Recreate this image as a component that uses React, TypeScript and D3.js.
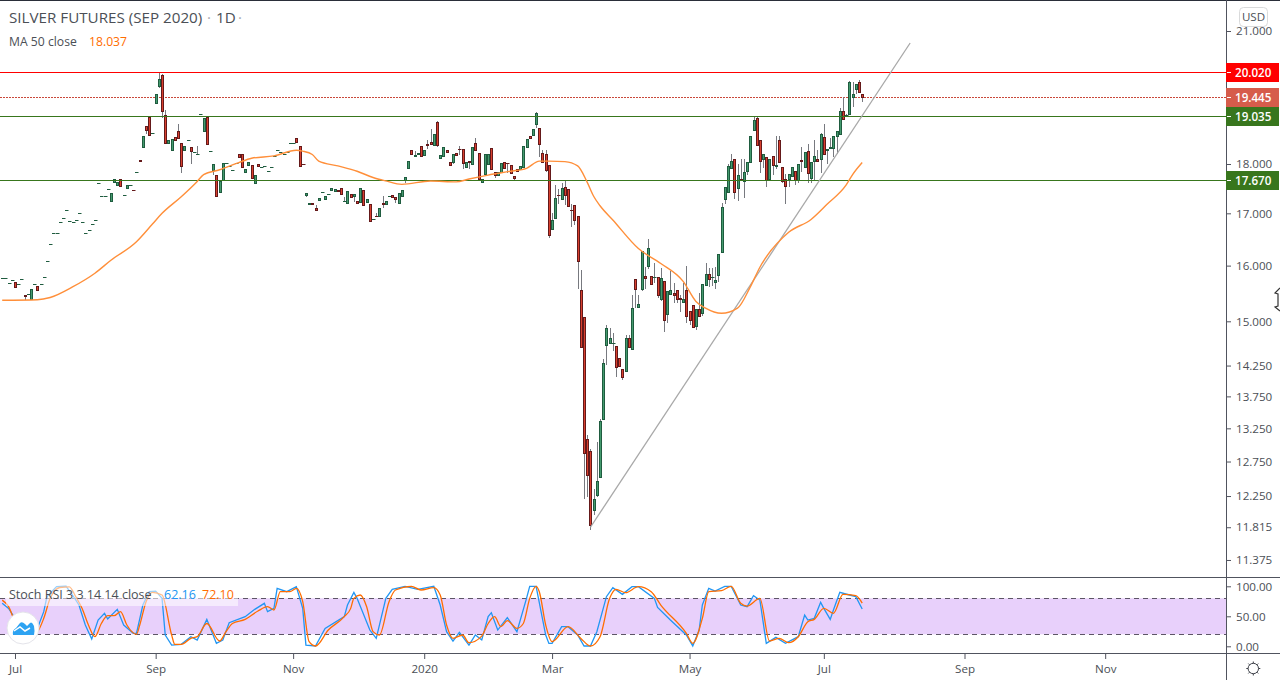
import React, { useEffect, useRef } from 'react';
import * as d3 from 'd3';

// daily candles, values
const opens = [
  15.77,15.77,15.68,15.73,15.70,15.66,15.75,15.47,15.48,15.40,
  15.66,15.62,15.66,15.79,16.09,16.40,16.61,16.61,16.82,16.90,
  17.06,16.84,16.82,16.86,17.00,16.82,16.61,16.68,16.80,16.86,
  17.60,17.34,17.34,17.48,17.24,17.62,17.56,17.70,17.36,17.50,
  17.57,17.47,17.83,18.08,18.36,18.80,19.00,18.65,19.31,19.70,
  19.95,19.05,18.44,18.29,18.57,18.70,18.44,18.29,18.50,18.35,
  18.25,18.21,19.07,18.70,19.00,18.27,17.88,17.77,17.42,17.66,
  18.02,17.95,17.87,18.03,18.21,18.21,17.84,17.97,17.97,17.60,
  17.99,17.93,17.95,17.85,17.93,18.16,18.29,18.25,18.20,18.25,
  18.44,18.44,18.55,18.38,18.01,17.36,17.18,17.20,17.11,17.27,
  17.43,17.28,17.38,17.46,17.44,17.46,17.50,17.25,17.21,17.38,
  17.34,17.25,17.23,17.46,17.23,17.19,16.88,16.95,16.94,17.20,
  17.19,17.35,17.36,17.32,17.21,17.34,17.67,17.91,18.29,18.16,
  18.20,18.38,18.18,18.42,18.46,18.40,18.89,18.12,18.16,18.29,
  18.05,18.05,18.24,18.32,18.31,17.93,18.06,18.01,18.44,18.24,
  17.62,17.80,18.01,18.33,17.83,17.77,17.83,18.05,18.03,17.97,
  17.75,17.89,17.89,17.93,18.35,18.59,18.61,18.85,18.76,18.24,
  18.20,17.97,16.70,16.90,17.37,17.29,17.52,17.48,17.07,17.17,
  16.95,15.55,15.08,13.08,12.90,12.05,12.26,12.52,13.39,14.59,
  14.63,14.63,14.58,14.37,14.19,14.16,14.71,14.52,15.75,15.25,
  15.58,15.81,16.00,15.81,15.79,15.79,15.39,15.71,15.12,15.48,
  15.50,15.55,15.41,15.34,15.55,15.18,15.28,14.92,15.21,15.15,
  15.64,15.84,15.79,15.70,15.83,16.26,17.28,17.43,17.91,18.10,
  17.50,17.70,17.65,17.85,18.05,18.72,18.98,18.50,18.10,18.14,
  17.68,18.16,17.95,18.50,17.93,17.70,17.70,17.75,17.85,17.67,
  18.08,17.93,18.27,17.72,18.07,18.10,18.10,18.57,18.29,18.33,
  18.33,18.59,18.63,19.14,19.05,19.07,19.46,19.63,19.80,19.53,
];
const highs = [
  15.77,15.77,15.68,15.73,15.70,15.66,15.75,15.47,15.48,15.58,
  15.66,15.62,15.66,15.79,16.09,16.40,16.61,16.61,16.82,16.90,
  17.06,16.84,16.82,16.86,17.00,16.82,16.61,16.68,16.80,16.86,
  17.60,17.34,17.34,17.48,17.40,17.68,17.63,17.70,17.36,17.57,
  17.57,17.47,17.83,18.08,18.59,18.80,19.00,18.65,19.53,20.00,
  19.98,19.16,18.50,18.52,18.57,18.86,18.44,18.39,18.50,18.35,
  18.25,18.38,19.07,18.98,19.00,18.27,18.00,17.77,17.65,18.02,
  18.02,17.95,17.87,18.03,18.21,18.21,17.89,18.05,17.97,17.77,
  17.99,17.93,17.95,17.85,17.93,18.16,18.29,18.25,18.20,18.25,
  18.44,18.44,18.55,18.38,18.01,17.40,17.21,17.20,17.16,17.30,
  17.43,17.34,17.38,17.50,17.48,17.46,17.50,17.32,17.44,17.38,
  17.38,17.25,17.50,17.46,17.29,17.19,16.88,17.00,17.10,17.34,
  17.25,17.35,17.36,17.32,17.40,17.46,17.73,18.07,18.29,18.27,
  18.24,18.38,18.29,18.50,18.74,18.63,18.91,18.18,18.35,18.29,
  18.05,18.22,18.24,18.38,18.31,18.05,18.06,18.35,18.54,18.24,
  17.70,18.22,18.22,18.33,17.83,17.83,18.03,18.05,18.03,17.97,
  17.75,17.89,17.95,18.38,18.52,18.59,18.74,19.12,18.76,18.29,
  18.29,17.97,17.00,17.57,17.48,17.60,17.66,17.48,17.19,17.17,
  16.95,15.92,15.08,13.15,12.94,12.35,13.04,13.39,14.36,14.93,
  14.88,14.80,14.58,14.37,14.19,14.76,14.76,15.46,15.75,15.46,
  16.27,15.98,16.51,15.81,16.04,15.79,15.95,15.71,15.53,15.90,
  15.68,15.55,15.46,15.68,16.00,15.18,15.28,15.21,15.50,15.67,
  16.04,15.96,15.95,15.98,16.21,17.21,17.53,18.01,18.20,18.10,
  18.01,18.10,18.10,18.05,18.59,19.03,19.03,18.50,18.20,18.14,
  18.10,18.16,18.59,18.59,17.93,17.79,17.79,17.93,17.85,18.01,
  18.35,18.25,18.42,18.05,18.50,18.29,18.66,18.85,18.31,18.55,
  18.59,18.70,19.20,19.46,19.08,19.82,19.80,19.75,19.85,19.53,
];
const lows = [
  15.77,15.77,15.68,15.73,15.60,15.66,15.75,15.37,15.48,15.40,
  15.66,15.56,15.66,15.79,16.09,16.40,16.61,16.61,16.82,16.90,
  17.06,16.84,16.82,16.86,17.00,16.82,16.61,16.68,16.80,16.86,
  17.60,17.34,17.34,17.48,17.24,17.62,17.56,17.54,17.36,17.50,
  17.57,17.46,17.83,18.07,18.36,18.64,18.62,18.65,19.31,19.65,
  18.98,18.44,18.44,18.29,18.51,18.54,17.82,18.29,18.50,17.99,
  18.25,18.21,19.07,18.70,18.42,18.27,17.78,17.34,17.42,17.66,
  18.02,17.95,17.87,18.03,18.14,17.93,17.84,17.97,17.72,17.60,
  17.95,17.93,17.95,17.85,17.93,18.16,18.29,18.25,18.20,18.25,
  18.44,18.44,18.46,17.95,18.00,17.33,17.18,17.19,17.07,17.27,
  17.43,17.28,17.38,17.46,17.44,17.45,17.38,17.23,17.21,17.32,
  17.23,17.21,17.23,17.16,17.23,16.84,16.88,16.92,16.94,17.11,
  17.16,17.35,17.32,17.21,17.21,17.34,17.60,17.91,18.22,18.16,
  18.20,18.16,18.18,18.31,18.42,18.40,18.35,18.12,18.16,18.25,
  17.97,17.99,18.18,18.18,17.89,17.93,17.89,18.01,18.29,17.68,
  17.62,17.80,18.01,17.89,17.72,17.77,17.83,17.91,17.81,17.81,
  17.67,17.85,17.89,17.93,18.35,18.55,18.61,18.76,18.14,18.05,
  17.83,16.53,16.70,16.90,17.19,17.29,17.16,17.14,16.73,16.77,
  15.57,14.54,12.21,12.24,11.78,11.98,12.24,12.52,13.39,14.26,
  14.63,14.49,14.06,14.24,14.02,14.16,14.56,14.52,15.23,15.25,
  15.53,15.57,15.94,15.66,15.68,15.41,15.35,14.81,14.97,15.48,
  15.32,15.32,15.17,15.34,14.97,14.93,14.88,14.85,15.10,15.10,
  15.64,15.61,15.62,15.58,15.70,16.26,17.19,17.43,17.91,17.29,
  17.25,17.66,17.31,17.77,18.05,18.72,18.40,17.81,17.91,17.53,
  17.68,17.77,17.89,18.05,17.60,17.18,17.53,17.75,17.57,17.60,
  17.84,17.93,17.60,17.61,17.67,18.06,17.81,18.22,17.99,18.33,
  18.15,18.20,18.63,18.96,19.04,19.07,19.22,19.51,19.56,19.35,
];
const closes = [
  15.77,15.77,15.68,15.73,15.60,15.66,15.75,15.44,15.48,15.58,
  15.66,15.56,15.66,15.79,16.09,16.40,16.61,16.61,16.82,16.90,
  17.06,16.84,16.82,16.86,17.00,16.82,16.61,16.68,16.80,16.86,
  17.60,17.34,17.34,17.48,17.40,17.68,17.63,17.54,17.36,17.57,
  17.57,17.46,17.83,18.07,18.59,18.73,18.62,18.65,19.53,19.86,
  19.13,18.44,18.50,18.52,18.51,18.54,17.95,18.39,18.50,18.27,
  18.25,18.21,19.07,18.98,18.42,18.27,18.00,17.34,17.65,18.02,
  18.02,17.95,17.87,18.03,18.14,17.93,17.89,18.05,17.72,17.77,
  17.95,17.93,17.95,17.85,17.93,18.16,18.29,18.25,18.20,18.25,
  18.44,18.44,18.46,17.95,18.00,17.40,17.21,17.19,17.07,17.30,
  17.43,17.34,17.38,17.50,17.48,17.45,17.38,17.25,17.44,17.32,
  17.38,17.21,17.50,17.16,17.29,16.84,16.88,16.94,17.10,17.19,
  17.25,17.35,17.32,17.28,17.40,17.46,17.73,18.07,18.22,18.18,
  18.24,18.16,18.29,18.40,18.42,18.63,18.40,18.18,18.35,18.25,
  17.97,18.22,18.18,18.31,18.03,18.05,18.05,18.35,18.29,17.68,
  17.70,18.22,18.22,17.89,17.78,17.83,18.03,17.91,18.02,17.81,
  17.72,17.85,17.95,18.38,18.52,18.55,18.74,19.09,18.42,18.05,
  17.87,16.57,16.86,17.30,17.36,17.50,17.36,17.14,17.06,16.86,
  16.08,14.56,12.87,12.55,11.85,12.21,12.46,13.36,14.30,14.88,
  14.71,14.63,14.22,14.24,14.07,14.72,14.56,15.23,15.57,15.30,
  16.27,15.77,16.33,15.66,15.79,15.46,15.77,15.02,15.53,15.55,
  15.46,15.39,15.40,15.39,15.09,15.03,14.90,15.21,15.10,15.67,
  15.84,15.75,15.79,15.74,16.21,17.13,17.53,17.95,18.07,17.43,
  17.77,17.66,17.83,18.05,18.59,18.94,18.40,18.07,18.20,17.66,
  18.10,17.97,17.97,18.05,17.65,17.54,17.79,17.93,17.67,18.01,
  18.07,18.25,17.81,18.05,18.16,18.06,18.63,18.22,18.31,18.35,
  18.59,18.70,19.15,18.96,19.06,19.79,19.51,19.75,19.56,19.45,
];

// moving average, read at the bends of the line
const maIndex = [0,11,15,22,29,34,42,47,50,56,61,63,68,74,78,85,92,94,97,99,105,111,116,120,125,134,142,146,152,159,164,168,171,176,180,183,185,187,191,199,206,213,217,220,225,230,234,237,246,253,258,264,266,269];
const maValue = [15.37,15.38,15.42,15.61,15.86,16.10,16.45,16.79,17.00,17.33,17.64,17.78,17.88,18.03,18.12,18.17,18.29,18.27,18.20,18.06,17.96,17.85,17.72,17.65,17.58,17.65,17.63,17.69,17.77,17.85,17.91,18.06,18.06,18.05,17.96,17.62,17.34,17.15,16.87,16.32,16.04,15.71,15.35,15.23,15.14,15.23,15.61,15.97,16.63,16.88,17.18,17.57,17.78,18.03];

// stoch rsi, K and D
const kIndex = [0,2,4,9,11,13,14,17,20,22,24,26,28,30,32,33,36,38,41,42,44,46,48,50,51,53,56,59,61,64,67,69,71,76,79,82,83,85,86,89,92,94,95,98,101,107,108,110,111,115,117,120,122,126,130,135,137,139,141,143,146,148,150,152,153,155,158,161,164,165,167,170,171,172,175,177,180,182,184,186,189,191,194,197,199,204,205,209,214,216,218,219,221,223,226,228,231,233,235,237,239,242,245,249,251,252,254,256,257,259,260,262,265,267,269];
const kValue = [71.6,63.2,46.6,13.2,29.9,57.7,82.7,99.4,100,85.5,68.8,35.5,12.1,43.8,54.9,45.5,61.6,35.5,21.6,21.6,68.8,91,92,79.9,18.8,2.1,3.2,16,10.5,44.9,4.9,10.5,39.4,49.4,61.6,71.6,57.7,63.2,96.6,91,99.4,63.2,2.1,0.5,29.9,49.4,68.8,89.9,79.9,27.1,13.2,79.9,94.9,100,94.9,100,68.8,24.4,8.8,23.2,2.1,18.8,10.5,49.4,56,27.1,47.7,24.4,79.9,100,100,18.8,4.9,4.9,32.7,32.7,18.8,0.5,0.5,24.4,82.7,97.7,86.6,99.4,99.4,79.9,64.9,43.8,18.8,0.5,27.1,68.8,96.6,92.1,100,100,68.8,66,84.4,77.1,4.9,14.9,4.9,16,52.1,43.8,46.6,73.2,63.2,44.9,60.5,89.9,85.5,82.7,62.16];
const dIndex = [0,2,4,8,11,13,15,18,21,23,25,27,29,31,33,35,37,39,42,43,45,47,50,53,54,56,59,61,64,68,70,72,76,80,83,85,87,90,92,94,96,98,102,107,109,110,112,114,116,118,121,123,128,131,135,137,139,141,144,146,150,152,154,156,158,161,163,165,167,168,170,172,177,181,184,187,190,192,195,199,203,206,214,216,219,221,225,228,231,233,237,240,243,246,249,252,254,257,260,263,267,269];
const dValue = [77,66,41,16,24,46.6,79.9,98,99,82.7,63,35,16,38,51,51,57.7,35.5,20,35,74.4,89.9,85.5,18.8,3.2,3.2,13.2,16,38,8.8,24.4,38,44.9,58.8,66,60.5,91,91,96.6,74.4,7.7,0.5,27.1,49.4,63.2,79.9,85.5,66,24.4,18.8,74.4,93.8,100,93.8,97.7,85.5,35.5,13.2,18.8,6,17,38,49.4,32.7,42.7,29.9,38,79.9,100,91,35.5,7.7,32.7,13.2,0.5,16,79.9,94.9,89.4,99.4,91,68.8,21.6,4.9,46.6,91,92.7,100,71.6,67,79.9,8.8,13.2,6,16,41,44.9,63.2,55,86.6,84.4,72.1];

// horizontal levels and the rising trend line
const redLevel = 20.02;
const lastPrice = 19.445;
const greenLevels = [19.035, 17.67];
const trendIndex = [184, 284];
const trendPrice = [11.815, 20.71];

const priceTicks = [21, 18, 17, 16, 15, 14.25, 13.75, 13.25, 12.75, 12.25, 11.815, 11.375];
const rsiTicks = [100, 50, 0];
const rsiBand = [80, 20];
const timeTickIndex = [4, 48, 91, 132, 172, 215, 257, 301, 345];
const timeTickLabels = ['Jul', 'Sep', 'Nov', '2020', 'Mar', 'May', 'Jul', 'Sep', 'Nov'];

const FONT = '"Open Sans", sans-serif';
const TEXT = '#4b4f56';
const AXIS = '#50535e';
const UP_FILL = '#449a6e';
const UP_EDGE = '#1f5c3f';
const DOWN_FILL = '#d8402e';
const DOWN_EDGE = '#64191a';
const WICK = '#77797f';
const GREEN_LINE = '#38761d';
const BLUE = '#2196f3';
const ORANGE = '#ff6d00';

const App: React.FC = () => {
  const svgRef = useRef<SVGSVGElement | null>(null);

  useEffect(() => {
    const svg = d3.select(svgRef.current);
    svg.selectAll('*').remove();

    const x = d3.scaleLinear().domain([0, 269]).range([2.2, 862.2]);
    const y = d3.scaleLog().domain([18, 21]).range([164, 31]);
    const yRsi = d3.scaleLinear().domain([0, 100]).range([646.3, 586.3]);
    const crisp = (v: number) => Math.round(v) + 0.5;

    const defs = svg.append('defs');
    defs.append('clipPath').attr('id', 'main').append('rect').attr('width', 1226).attr('height', 577);
    defs.append('clipPath').attr('id', 'pane').append('rect').attr('y', 578).attr('width', 1226).attr('height', 75);

    svg.append('rect').attr('width', 1280).attr('height', 680).attr('fill', '#fff');
    svg.append('rect').attr('width', 1280).attr('height', 1).attr('fill', '#2a2e39');

    const main = svg.append('g').attr('clip-path', 'url(#main)');

    // levels sit under the candles
    main.append('line').attr('x1', 0).attr('x2', 1226).attr('y1', crisp(y(lastPrice))).attr('y2', crisp(y(lastPrice)))
      .attr('stroke', '#c9483a').attr('stroke-dasharray', '2 1');

    const candles = d3.range(opens.length);
    const candleG = main.append('g');
    candles.forEach(i => {
      const cx = Math.round(x(i));
      const up = closes[i] >= opens[i];
      const top = Math.round(y(Math.max(opens[i], closes[i])));
      const bottom = Math.round(y(Math.min(opens[i], closes[i])));
      const hi = Math.round(y(highs[i]));
      const lo = Math.round(y(lows[i]));
      if (lo - hi > 0) {
        candleG.append('rect').attr('x', cx).attr('y', hi).attr('width', 1).attr('height', lo - hi).attr('fill', WICK);
      }
      if (bottom - top < 1) {
        // flat sessions come out as a short dash
        candleG.append('rect').attr('x', cx - 1).attr('y', top).attr('width', 3.5).attr('height', 1)
          .attr('fill', up ? UP_EDGE : DOWN_EDGE);
      } else {
        candleG.append('rect').attr('x', cx - 0.5).attr('y', top + 0.5).attr('width', 2).attr('height', bottom - top)
          .attr('fill', up ? UP_FILL : DOWN_FILL).attr('stroke', up ? UP_EDGE : DOWN_EDGE);
      }
    });

    main.append('line').attr('x1', 0).attr('x2', 1226).attr('y1', crisp(y(redLevel))).attr('y2', crisp(y(redLevel)))
      .attr('stroke', '#ff0000').attr('stroke-width', 1);
    greenLevels.forEach(p => {
      main.append('line').attr('x1', 0).attr('x2', 1226).attr('y1', crisp(y(p))).attr('y2', crisp(y(p)))
        .attr('stroke', GREEN_LINE).attr('stroke-width', 1);
    });

    main.append('line')
      .attr('x1', x(trendIndex[0])).attr('y1', y(trendPrice[0]))
      .attr('x2', x(trendIndex[1])).attr('y2', y(trendPrice[1]))
      .attr('stroke', '#a8a8a8').attr('stroke-width', 1.3);

    const maLine = d3.line<number>().x((_, i) => x(maIndex[i])).y(d => y(d)).curve(d3.curveMonotoneX);
    main.append('path').attr('d', maLine(maValue)).attr('fill', 'none').attr('stroke', '#ff8f3a').attr('stroke-width', 1.4);

    // stoch rsi pane
    const pane = svg.append('g').attr('clip-path', 'url(#pane)');
    pane.append('rect').attr('x', 0).attr('width', 1226)
      .attr('y', yRsi(rsiBand[0])).attr('height', yRsi(rsiBand[1]) - yRsi(rsiBand[0]))
      .attr('fill', '#e8d0fb');
    rsiBand.forEach(v => {
      pane.append('line').attr('x1', 0).attr('x2', 1226).attr('y1', crisp(yRsi(v))).attr('y2', crisp(yRsi(v)))
        .attr('stroke', '#5d5566').attr('stroke-dasharray', '5 4');
    });
    const dLine = d3.line<number>().x((_, i) => x(dIndex[i])).y(d => yRsi(d)).curve(d3.curveMonotoneX);
    const kLine = d3.line<number>().x((_, i) => x(kIndex[i])).y(d => yRsi(d));
    pane.append('path').attr('d', kLine(kValue)).attr('fill', 'none').attr('stroke', BLUE).attr('stroke-width', 1.3);
    pane.append('path').attr('d', dLine(dValue)).attr('fill', 'none').attr('stroke', ORANGE).attr('stroke-width', 1.3);

    // frame
    svg.append('rect').attr('x', 1226).attr('width', 1).attr('height', 680).attr('fill', AXIS);
    svg.append('rect').attr('y', 577).attr('width', 1280).attr('height', 1).attr('fill', AXIS);
    svg.append('rect').attr('y', 653).attr('width', 1280).attr('height', 1).attr('fill', AXIS);

    // axes
    const styleAxis = (g: d3.Selection<SVGGElement, unknown, null, undefined>) => {
      g.select('.domain').remove();
      g.selectAll('line').attr('stroke', AXIS);
      g.selectAll('text').attr('fill', TEXT).attr('font-family', FONT).attr('font-size', 11.6);
    };
    const yAxis = d3.axisRight(y).tickValues(priceTicks).tickFormat(d => d3.format('.3f')(d as number)).tickSize(4).tickPadding(5);
    svg.append('g').attr('transform', 'translate(1227,0)').call(yAxis).call(styleAxis);
    const rsiAxis = d3.axisRight(yRsi).tickValues(rsiTicks).tickFormat(d => d3.format('.2f')(d as number)).tickSize(4).tickPadding(5);
    svg.append('g').attr('transform', 'translate(1227,0)').call(rsiAxis).call(styleAxis);
    const xAxis = d3.axisBottom(x).tickValues(timeTickIndex).tickFormat((_, i) => timeTickLabels[i]).tickSize(5).tickPadding(6);
    svg.append('g').attr('transform', 'translate(0,654)').call(xAxis).call(styleAxis);

    // price labels on the axis
    const priceLabel = (p: number, fill: string) => {
      const cy = y(p);
      svg.append('rect').attr('x', 1226).attr('y', Math.round(cy) - 9).attr('width', 53).attr('height', 19).attr('fill', fill);
      svg.append('rect').attr('x', 1227).attr('y', Math.round(cy)).attr('width', 4).attr('height', 1).attr('fill', '#fff');
      svg.append('text').attr('x', 1235).attr('y', Math.round(cy) + 5).attr('fill', '#fff')
        .attr('font-family', FONT).attr('font-size', 11.6).attr('font-weight', 600).text(d3.format('.3f')(p));
    };
    priceLabel(redLevel, '#ff0000');
    priceLabel(lastPrice, '#d65c4b');
    greenLevels.forEach(p => priceLabel(p, GREEN_LINE));

    svg.append('rect').attr('x', 1239.5).attr('y', 7.5).attr('width', 28).attr('height', 19).attr('rx', 4)
      .attr('fill', '#fff').attr('stroke', '#d9dadb');
    svg.append('text').attr('x', 1253.5).attr('y', 21).attr('text-anchor', 'middle').attr('fill', TEXT)
      .attr('font-family', FONT).attr('font-size', 11.6).text('USD');

    // legends
    const label = (tx: number, ty: number, size: number, fill: string, s: string) =>
      svg.append('text').attr('x', tx).attr('y', ty).attr('fill', fill)
        .attr('font-family', FONT).attr('font-size', size).text(s);
    label(9, 23, 15.2, TEXT, 'SILVER FUTURES (SEP 2020)');
    label(207, 23, 15.2, '#a9abb0', '·');
    label(216, 23, 15.2, TEXT, '1D');
    label(238, 23, 15.2, '#a9abb0', '·');
    label(9, 46, 12.2, TEXT, 'MA 50 close');
    label(89, 46, 12.2, ORANGE, '18.037');

    svg.append('rect').attr('x', 6).attr('y', 586).attr('width', 232).attr('height', 20).attr('fill', '#fff').attr('opacity', 0.55);
    label(9, 599, 12.5, TEXT, 'Stoch RSI 3 3 14 14 close');
    label(164, 599, 12.5, BLUE, '62.16');
    label(202, 599, 12.5, ORANGE, '72.10');

    // logo badge
    svg.append('circle').attr('cx', 23).attr('cy', 628).attr('r', 16).attr('fill', '#fff').attr('stroke', '#e4e4ea');
    svg.append('path')
      .attr('d', 'M13 635 Q12 630 16 628 L20 623 Q22 621 25 624 L27 626 L30 623 Q32 621 34 626 Q35 631 34 635 Z')
      .attr('fill', '#2ea3f2');
    svg.append('path').attr('d', 'M14 631 L20 627 L25 631 L30 628').attr('fill', 'none').attr('stroke', '#fff').attr('stroke-width', 1.5);

    // settings gear
    const gear = svg.append('g').attr('transform', 'translate(1253.3,668.5)');
    gear.append('circle').attr('r', 5.2).attr('fill', 'none').attr('stroke', '#3c3f47').attr('stroke-width', 1);
    d3.range(8).forEach(k => {
      const a = (k * Math.PI) / 4;
      gear.append('line').attr('x1', 5.2 * Math.cos(a)).attr('y1', 5.2 * Math.sin(a))
        .attr('x2', 7 * Math.cos(a)).attr('y2', 7 * Math.sin(a)).attr('stroke', '#3c3f47').attr('stroke-width', 1);
    });

    // mouse pointer left on the scale
    svg.append('path').attr('d', 'M1280 288 L1275 293 L1278 294 L1278 306 L1275 307 L1280 311')
      .attr('fill', '#fff').attr('stroke', '#333').attr('stroke-width', 1.2);
  }, []);

  return <svg ref={svgRef} width={1280} height={680} style={{ position: 'absolute', left: 0, top: 0 }}></svg>;
};

export default App;
